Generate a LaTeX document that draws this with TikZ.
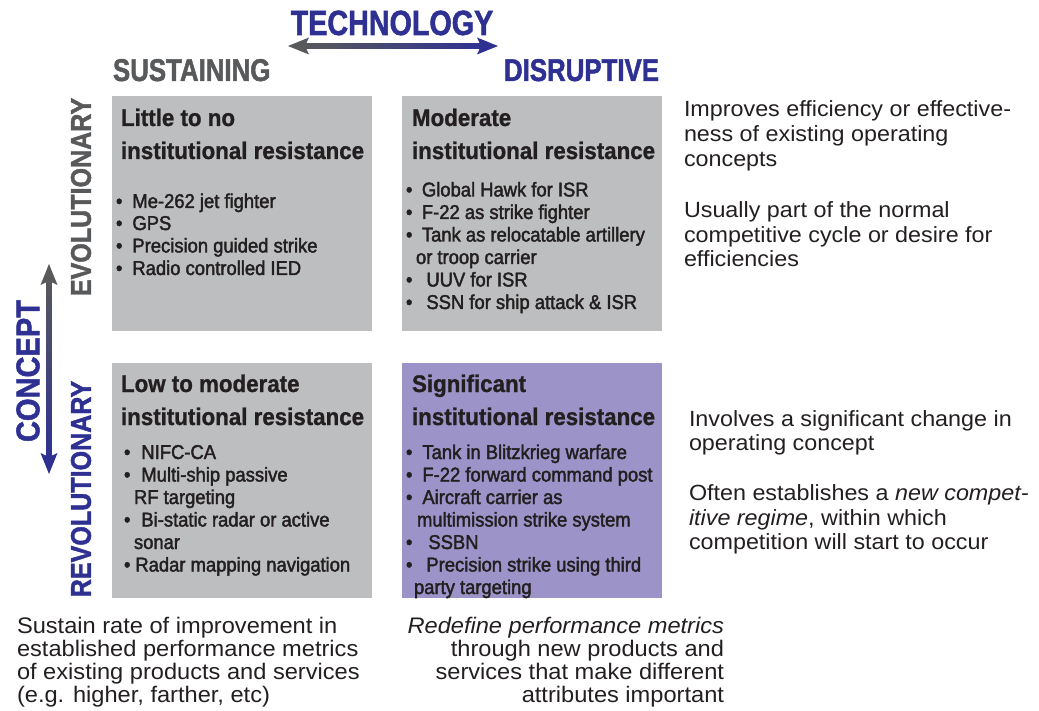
\documentclass[tikz,border=0pt]{standalone}
\usepackage{fontspec}
\setmainfont{Liberation Sans}
\newfontfamily\fhead[FakeStretch=0.82,BoldFeatures={FakeBold=1.5}]{Liberation Sans}
\newfontfamily\faxis[FakeStretch=0.88,BoldFeatures={FakeBold=1.5}]{Liberation Sans}
\newfontfamily\ftitle[FakeStretch=0.93,BoldFeatures={FakeBold=1}]{Liberation Sans}
\newfontfamily\fbul[FakeStretch=0.92,FakeBold=2]{Liberation Sans}
\newfontfamily\fbody[FakeStretch=1.06]{Liberation Sans}
\newfontfamily\fbot[FakeStretch=1.05]{Liberation Sans}
\usetikzlibrary{calc}
\definecolor{navy}{HTML}{2E3192}
\definecolor{axgray}{HTML}{58595B}
\definecolor{boxgray}{HTML}{BCBEC0}
\definecolor{boxpurple}{HTML}{9C94C8}
\definecolor{ink}{HTML}{231F20}
\definecolor{bodyink}{HTML}{231F20}
\tikzset{
  quad/.style={anchor=north west, minimum width=260pt, minimum height=235pt, inner sep=0pt},
  graybox/.style={quad, fill=boxgray},
  purplebox/.style={quad, fill=boxpurple},
  hdtxt/.style={font=\fhead\bfseries\fontsize{31.5}{31.5}\selectfont},
  axtxt/.style={font=\faxis\bfseries\fontsize{28.5}{28.5}\selectfont, rotate=90, anchor=center},
  ttl/.style={anchor=base west, text=ink, font=\ftitle\bfseries\fontsize{24}{24}\selectfont},
  bul/.style={anchor=base west, text=ink, font=\fbul\fontsize{20}{20}\selectfont},
  body/.style={anchor=base west, text=bodyink, font=\fbody\fontsize{22}{22}\selectfont},
  bot/.style={text=bodyink, font=\fbot\fontsize{22.5}{22.5}\selectfont},
}
\newcommand{\bu}[1]{\textbullet\hspace{#1pt}}
\begin{document}
\begin{tikzpicture}[x=1pt,y=-1pt, every node/.append style={inner sep=0pt, outer sep=0pt}]
\useasboundingbox (0,0) rectangle (1039,711);

% headings
\node[hdtxt, anchor=base, text=navy, font=\fhead\bfseries\fontsize{35}{35}\selectfont] (tech) at (392,35) {TECHNOLOGY};
\node[hdtxt, anchor=base west, text=axgray] (sust) at (113,81) {SUSTAINING};
\node[hdtxt, anchor=base east, text=navy] (disr) at (659,81) {DISRUPTIVE};

% horizontal arrow
\coordinate (hL) at (288,46);
\coordinate (hR) at (498,46);
\shade[left color=axgray, right color=navy] ($(hL)+(15,-2.5)$) rectangle ($(hR)+(-15,2.5)$);
\fill[axgray] (hL) -- ++(21,-8.5) -- ++(-4,8.5) -- ++(4,8.5) -- cycle;
\fill[navy] (hR) -- ++(-21,-8.5) -- ++(4,8.5) -- ++(-4,8.5) -- cycle;

% vertical labels
\node[axtxt, text=axgray] (evo) at (81,197) {EVOLUTIONARY};
\node[axtxt, text=navy] (rev) at (81,489) {REVOLUTIONARY};
\node[axtxt, text=navy, font=\faxis\bfseries\fontsize{33}{33}\selectfont] (conc) at (28,371) {CONCEPT};

% vertical arrow
\coordinate (vT) at (49,264);
\coordinate (vB) at (49,474);
\shade[top color=axgray, bottom color=navy] ($(vT)+(-2.3,15)$) rectangle ($(vB)+(2.3,-15)$);
\fill[axgray] (vT) -- ++(-8.5,21) -- ++(8.5,-4) -- ++(8.5,4) -- cycle;
\fill[navy] (vB) -- ++(-8.5,-21) -- ++(8.5,4) -- ++(8.5,-4) -- cycle;

% boxes
\node[graybox] (tl) at (112,96) {};
\node[graybox] (tr) at (402,96) {};
\node[graybox] (bl) at (112,363) {};
\node[purplebox] (br) at (402,363) {};

% top-left
\node[ttl] (tl1) at (121,126) {Little to no};
\node[ttl] (tl2) at (121,159) {institutional resistance};
\node[bul] (tlb1) at (116,208) {\bu{10}Me-262 jet fighter};
\node[bul] (tlb2) at (116,230) {\bu{10}GPS};
\node[bul] (tlb3) at (116,252.5) {\bu{10}Precision guided strike};
\node[bul] (tlb4) at (116,275) {\bu{10}Radio controlled IED};

% top-right
\node[ttl] (tr1) at (412,126) {Moderate};
\node[ttl] (tr2) at (412,159) {institutional resistance};
\node[bul] (trb1) at (406,196.5) {\bu{9.5}Global Hawk for ISR};
\node[bul] (trb2) at (406,219) {\bu{9.5}F-22 as strike fighter};
\node[bul] (trb3) at (406,241.5) {\bu{9.5}Tank as relocatable artillery};
\node[bul] (trb4) at (416,264) {or troop carrier};
\node[bul] (trb5) at (406,286.5) {\bu{14}UUV for ISR};
\node[bul] (trb6) at (406,309) {\bu{14}SSN for ship attack \& ISR};

% bottom-left
\node[ttl] (bl1) at (121,392) {Low to moderate};
\node[ttl] (bl2) at (121,425) {institutional resistance};
\node[bul] (blb1) at (124,459) {\bu{11}NIFC-CA};
\node[bul] (blb2) at (124,481.5) {\bu{11}Multi-ship passive};
\node[bul] (blb3) at (134,504) {RF targeting};
\node[bul] (blb4) at (124,526.5) {\bu{11}Bi-static radar or active};
\node[bul] (blb5) at (134,549) {sonar};
\node[bul] (blb6) at (124,571.5) {\bu{5}Radar mapping navigation};

% bottom-right
\node[ttl] (br1) at (412,392) {Significant};
\node[ttl] (br2) at (412,425) {institutional resistance};
\node[bul] (brb1) at (406,459) {\bu{10}Tank in Blitzkrieg warfare};
\node[bul] (brb2) at (406,481.5) {\bu{10}F-22 forward command post};
\node[bul] (brb3) at (406,504) {\bu{10}Aircraft carrier as};
\node[bul] (brb4) at (417,526.5) {multimission strike system};
\node[bul] (brb5) at (406,549) {\bu{16}SSBN};
\node[bul] (brb6) at (406,571.5) {\bu{14}Precision strike using third};
\node[bul] (brb7) at (414,594) {party targeting};

% right-hand notes
\node[body] (r1) at (684,117) {Improves efficiency or effective-};
\node[body] (r2) at (684,142) {ness of existing operating};
\node[body] (r3) at (684,167) {concepts};
\node[body] (r4) at (684,218) {Usually part of the normal};
\node[body] (r5) at (684,243) {competitive cycle or desire for};
\node[body] (r6) at (684,267) {efficiencies};
\node[body] (r7) at (689,426) {Involves a significant change in};
\node[body] (r8) at (689,450) {operating concept};
\node[body] (r9) at (689,500) {Often establishes a \textit{new compet-}};
\node[body] (r10) at (689,525) {\textit{itive regime}, within which};
\node[body] (r11) at (689,549) {competition will start to occur};

% bottom notes
\node[bot, anchor=base west] (b1) at (17,633) {Sustain rate of improvement in};
\node[bot, anchor=base west] (b2) at (17,656) {established performance metrics};
\node[bot, anchor=base west] (b3) at (17,679) {of existing products and services};
\node[bot, anchor=base west] (b4) at (17,702) {(e.g. higher, farther, etc)};
\node[bot, anchor=base east] (c1) at (724,633) {\textit{Redefine performance metrics}};
\node[bot, anchor=base east] (c2) at (724,656) {through new products and};
\node[bot, anchor=base east] (c3) at (724,679) {services that make different};
\node[bot, anchor=base east] (c4) at (724,702) {attributes important};
\end{tikzpicture}
\end{document}
